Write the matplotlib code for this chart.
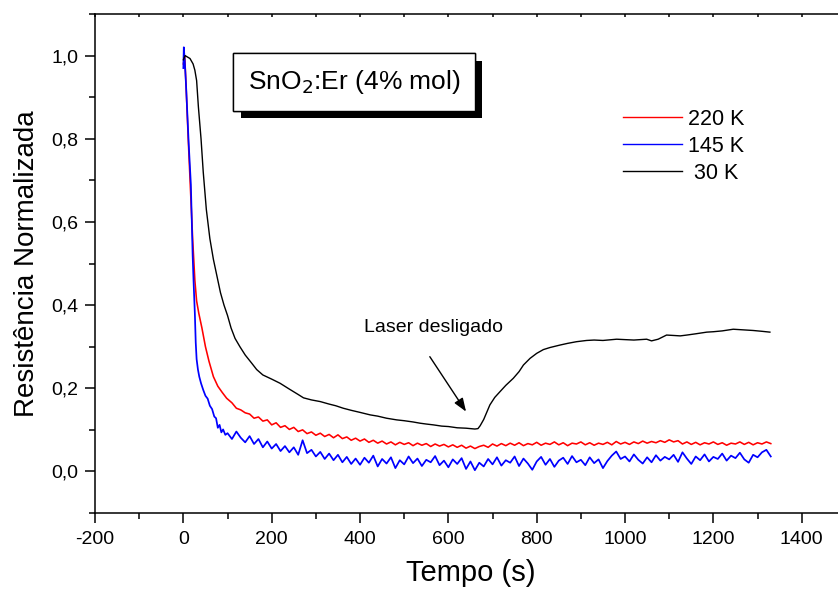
import numpy as np
import matplotlib
matplotlib.use('Agg')
import matplotlib.pyplot as plt
import matplotlib.patheffects as pe
from matplotlib.ticker import MultipleLocator, FuncFormatter

plt.rcParams['font.family'] = ['Liberation Sans', 'DejaVu Sans']

# --- 220 K (vermelho): trecho inicial + amostras a cada 10 s a partir de 150 s
t_220_ini = [0, 3, 6, 11, 16, 21, 26, 30, 35, 42, 50, 58, 68, 78, 88, 98, 110, 120, 130, 140]
r_220_ini = [0.98, 1.00, 0.93, 0.80, 0.68, 0.56, 0.46, 0.41, 0.38, 0.345, 0.30, 0.265, 0.228,
             0.205, 0.19, 0.176, 0.165, 0.152, 0.148, 0.141]
r_220_resto = [
    0.138, 0.128, 0.131, 0.121, 0.124, 0.112, 0.117, 0.106, 0.110, 0.101,
    0.106, 0.096, 0.100, 0.091, 0.095, 0.087, 0.092, 0.084, 0.089, 0.081,
    0.088, 0.079, 0.083, 0.075, 0.080, 0.073, 0.078, 0.070, 0.075, 0.068,
    0.073, 0.066, 0.071, 0.064, 0.070, 0.065, 0.069, 0.062, 0.068, 0.063,
    0.067, 0.060, 0.066, 0.061, 0.065, 0.059, 0.064, 0.058, 0.063, 0.056,
    0.061, 0.055, 0.060, 0.063, 0.058, 0.066, 0.061, 0.067, 0.062, 0.068,
    0.063, 0.069, 0.062, 0.067, 0.064, 0.070, 0.063, 0.068, 0.065, 0.071,
    0.064, 0.069, 0.062, 0.068, 0.066, 0.071, 0.064, 0.069, 0.063, 0.068,
    0.065, 0.070, 0.064, 0.072, 0.066, 0.070, 0.065, 0.071, 0.067, 0.073,
    0.068, 0.072, 0.069, 0.074, 0.070, 0.076, 0.071, 0.074, 0.066, 0.071,
    0.065, 0.070, 0.064, 0.069, 0.066, 0.071, 0.065, 0.069, 0.063, 0.068,
    0.066, 0.071, 0.065, 0.070, 0.064, 0.069, 0.066, 0.071, 0.067,
]

# --- 145 K (azul): trecho inicial + amostras a cada 10 s a partir de 100 s
t_145_ini = [0, 1, 3, 6, 9, 12, 15, 17, 19, 21, 23, 26, 28, 30, 33, 36, 40, 45, 50, 55, 60,
             65, 70, 74, 78, 82, 86, 90, 95]
r_145_ini = [0.97, 1.02, 0.99, 0.93, 0.86, 0.79, 0.73, 0.69, 0.60, 0.52, 0.46, 0.38, 0.31,
             0.27, 0.245, 0.228, 0.212, 0.196, 0.182, 0.175, 0.158, 0.15, 0.132, 0.128, 0.105,
             0.112, 0.094, 0.101, 0.088]
r_145_resto = [
    0.092, 0.078, 0.096, 0.081, 0.070, 0.085, 0.066, 0.078, 0.058, 0.072,
    0.055, 0.066, 0.049, 0.061, 0.046, 0.058, 0.040, 0.075, 0.044, 0.052,
    0.036, 0.047, 0.030, 0.043, 0.027, 0.040, 0.022, 0.035, 0.018, 0.031,
    0.016, 0.033, 0.021, 0.038, 0.012, 0.030, 0.019, 0.034, 0.008, 0.027,
    0.017, 0.036, 0.020, 0.031, 0.013, 0.028, 0.022, 0.037, 0.015, 0.026,
    0.010, 0.029, 0.018, 0.032, 0.006, 0.024, 0.003, 0.021, 0.012, 0.030,
    0.017, 0.034, 0.014, 0.027, 0.021, 0.036, 0.013, 0.031, 0.019, 0.004,
    0.024, 0.035, 0.016, 0.030, 0.011, 0.026, 0.033, 0.018, 0.037, 0.022,
    0.028, 0.015, 0.034, 0.020, 0.029, 0.008, 0.025, 0.038, 0.048, 0.030,
    0.036, 0.024, 0.041, 0.028, 0.019, 0.034, 0.022, 0.039, 0.026, 0.035,
    0.029, 0.040, 0.023, 0.046, 0.031, 0.018, 0.036, 0.027, 0.041, 0.024,
    0.035, 0.030, 0.043, 0.026, 0.038, 0.032, 0.045, 0.029, 0.021, 0.040,
    0.034, 0.046, 0.052, 0.036,
]

# --- 30 K (preto)
t_30 = [0, 4, 15, 22, 26, 30, 34, 40, 45, 52, 60, 68, 76, 84, 92, 100, 108, 117, 128, 140,
        155, 166, 180, 200, 219, 240, 260, 272, 290, 310, 330, 345, 362, 380, 400, 423, 440,
        460, 483, 500, 520, 536, 550, 566, 585, 600, 620, 640, 660, 667, 672, 680, 694, 705,
        717, 730, 747, 760, 770, 785, 800, 815, 830, 853, 870, 890, 913, 930, 950, 981, 1000,
        1020, 1049, 1060, 1075, 1094, 1110, 1125, 1140, 1160, 1185, 1200, 1220, 1245, 1260,
        1275, 1290, 1310, 1328]
r_30 = [0.99, 1.00, 0.993, 0.98, 0.965, 0.94, 0.877, 0.80, 0.72, 0.63, 0.56, 0.51, 0.47, 0.43,
        0.40, 0.375, 0.345, 0.32, 0.30, 0.28, 0.26, 0.245, 0.232, 0.222, 0.212, 0.198, 0.185,
        0.177, 0.172, 0.168, 0.162, 0.158, 0.152, 0.147, 0.142, 0.136, 0.133, 0.128, 0.124,
        0.122, 0.119, 0.116, 0.114, 0.112, 0.109, 0.108, 0.105, 0.104, 0.102, 0.103, 0.11,
        0.125, 0.16, 0.178, 0.192, 0.207, 0.224, 0.24, 0.256, 0.272, 0.284, 0.293, 0.298,
        0.304, 0.308, 0.312, 0.315, 0.316, 0.315, 0.318, 0.317, 0.316, 0.318, 0.314, 0.318,
        0.328, 0.327, 0.326, 0.328, 0.331, 0.335, 0.336, 0.338, 0.342, 0.341, 0.340, 0.339,
        0.337, 0.335]


def virgula(v, pos):
    s = f'{v:.1f}'.replace('.', ',')
    return '0,0' if s == '-0,0' else s


def montar_series():
    t_220 = np.concatenate([t_220_ini, 150 + 10 * np.arange(len(r_220_resto))])
    y_220 = np.concatenate([r_220_ini, r_220_resto])
    t_145 = np.concatenate([t_145_ini, 100 + 10 * np.arange(len(r_145_resto))])
    y_145 = np.concatenate([r_145_ini, r_145_resto])
    return (t_220, y_220), (t_145, y_145), (np.array(t_30), np.array(r_30))


def desenhar(saida='out.png'):
    (t_220, y_220), (t_145, y_145), (t30, y30) = montar_series()

    fig = plt.figure(figsize=(8.38, 5.92), dpi=100)
    # eixo vai além da borda direita, como no gráfico original
    ax = fig.add_axes([0.1134, 0.1334, 0.896, 0.8429])

    ax.plot(t_220, y_220, color='#ff0000', lw=1.15, label='220 K')
    ax.plot(t_145, y_145, color='#0000ff', lw=1.25, label='145 K')
    ax.plot(t30, y30, color='black', lw=1.0, label=' 30 K')

    ax.set_xlim(-200, 1500)
    ax.set_ylim(-0.1, 1.1)
    ax.xaxis.set_major_locator(MultipleLocator(200))
    ax.xaxis.set_minor_locator(MultipleLocator(100))
    ax.yaxis.set_major_locator(MultipleLocator(0.2))
    ax.yaxis.set_minor_locator(MultipleLocator(0.1))
    ax.yaxis.set_major_formatter(FuncFormatter(virgula))
    ax.xaxis.set_major_formatter(FuncFormatter(lambda v, p: f'{v:.0f}'))

    for s in ax.spines.values():
        s.set_linewidth(1.1)
    ax.tick_params(axis='both', which='major', direction='out', length=7, width=1.1,
                   labelsize=14, pad=5)
    ax.tick_params(axis='both', which='minor', direction='out', length=4.3, width=1.1)
    ax.tick_params(axis='x', which='both', top=True, labeltop=False)
    ax.tick_params(axis='x', which='major', pad=6)

    # ticks do topo: pequenos, para dentro
    for t in ax.xaxis.get_major_ticks() + ax.xaxis.get_minor_ticks():
        t.tick2line.set_markersize(2.5)
        t.tick2line.set_marker(3)

    ax.set_xlabel('Tempo (s)', fontsize=21, labelpad=8)
    ax.set_ylabel('Resistência Normalizada', fontsize=20, labelpad=8)

    leg = ax.legend(loc='upper left', bbox_to_anchor=(0.743, 0.816),
                    bbox_transform=fig.transFigure, frameon=False, fontsize=15.5,
                    handlelength=2.75, handletextpad=0.3, labelspacing=0.28,
                    borderpad=0, borderaxespad=0)
    for ln in leg.get_lines():
        ln.set_linewidth(1.0)

    caixa = ax.text(354 / 838, 1 - 82 / 592, r'SnO$_2$:Er (4% mol)', transform=fig.transFigure,
                    fontsize=19, ha='center', va='center',
                    bbox=dict(boxstyle='square,pad=0.55', fc='white', ec='black', lw=1.0))
    caixa.get_bbox_patch().set_path_effects([
        pe.withSimplePatchShadow(offset=(5.5, -5.5), shadow_rgbFace='black', alpha=1.0),
        pe.Normal(),
    ])

    ax.text(567, 0.347, 'Laser desligado', fontsize=14, ha='center', va='center')
    ax.annotate('', xy=(640, 0.144), xytext=(558, 0.276),
                arrowprops=dict(arrowstyle='-|>,head_length=0.8,head_width=0.3',
                                color='black', lw=1.0, shrinkA=0, shrinkB=0))

    fig.savefig(saida, dpi=100)
    plt.close(fig)


if __name__ == '__main__':
    desenhar()
